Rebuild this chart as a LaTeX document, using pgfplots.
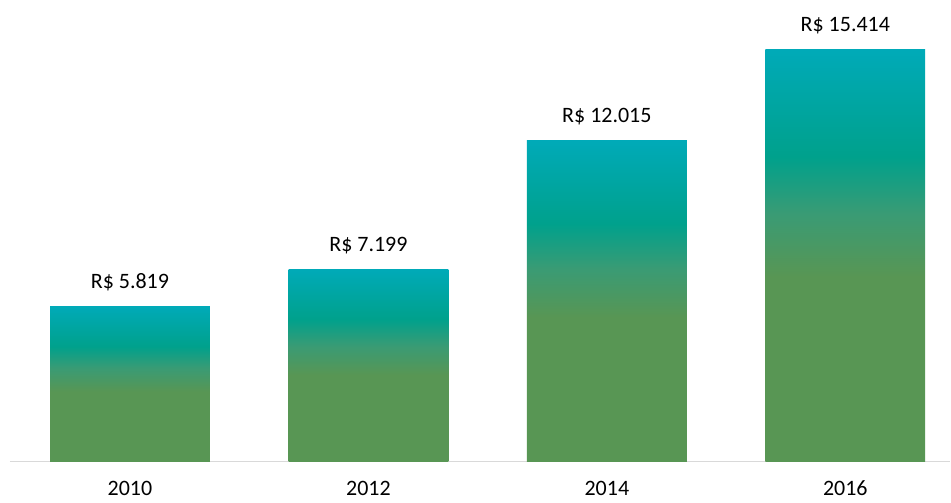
\documentclass[border=0pt]{standalone}
\usepackage{pgfplots}
\pgfplotsset{compat=1.18}
\usepackage{fontspec}
\setmainfont{Carlito}
\definecolor{cTeal}{RGB}{0,170,184}
\definecolor{cTG}{RGB}{0,161,140}
\definecolor{cMid}{RGB}{58,155,116}
\definecolor{cGreen}{RGB}{88,150,84}
\definecolor{axgray}{RGB}{217,217,217}
\pgfdeclareverticalshading{barshade}{100bp}{color(0bp)=(cGreen); color(25bp)=(cGreen); color(47.5bp)=(cGreen); color(55bp)=(cMid); color(62bp)=(cTG); color(75bp)=(cTeal); color(100bp)=(cTeal)}
\begin{document}
\begin{tikzpicture}
\path (-10pt,-41pt) rectangle (941pt,462pt);
\begin{axis}[
  scale only axis, width=941pt, height=462pt,
  xmin=-0.503, xmax=3.44, ymin=0, ymax=17.27,
  hide y axis,
  axis x line*=bottom,
  x axis line style={-, draw=axgray, line width=1.5pt},
  xtick={0,1,2,3}, xticklabels={2010,2012,2014,2016},
  major tick length=0pt,
  xticklabel style={font=\fontsize{22}{26}\selectfont, anchor=base, yshift=-34pt},
  clip=false,
  every node near coord/.append style={font=\fontsize{22}{26}\selectfont, black, anchor=base, yshift=18pt},
  point meta=explicit symbolic,
]
\addplot[ybar, bar width=0.67, bar shift=0pt, draw=none, shading=barshade, nodes near coords] coordinates {(0,5.819) [R\$ 5.819]};
\addplot[ybar, bar width=0.67, bar shift=0pt, draw=none, shading=barshade, nodes near coords] coordinates {(1,7.199) [R\$ 7.199]};
\addplot[ybar, bar width=0.67, bar shift=0pt, draw=none, shading=barshade, nodes near coords] coordinates {(2,12.015) [R\$ 12.015]};
\addplot[ybar, bar width=0.67, bar shift=0pt, draw=none, shading=barshade, nodes near coords] coordinates {(3,15.414) [R\$ 15.414]};
\end{axis}
\end{tikzpicture}
\end{document}
